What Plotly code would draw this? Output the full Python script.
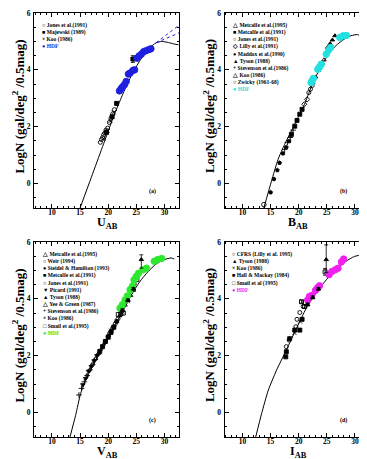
import plotly.graph_objects as go

# ------------------------------------------------------------------ data
# Panel (a)  U band
A_MODEL_MAG = [15.0, 17.0, 19.0, 21.0, 22.5, 24.0, 25.5, 27.0, 28.0, 28.5, 29.5, 30.5, 31.5, 32.5]
A_MODEL_LOGN = [-0.86, 0.22, 1.3, 2.38, 3.1, 3.75, 4.28, 4.7, 4.88, 4.95, 5.0, 4.97, 4.92, 4.88]
A_DOT1_MAG = [28.5, 32.6]
A_DOT1_LOGN = [4.95, 5.57]
A_DOT2_MAG = [28.5, 32.6]
A_DOT2_LOGN = [4.95, 5.3]
A_JONES_MAG = [18.6, 18.8, 19.0, 19.2, 19.4, 19.6, 19.9, 20.2, 20.5, 20.8, 21.1]
A_JONES_LOGN = [1.45, 1.55, 1.62, 1.72, 1.78, 1.88, 1.95, 2.15, 2.3, 2.45, 2.6]
A_MAJ_MAG = [19.7, 20.7, 21.5, 24.4]
A_MAJ_LOGN = [1.8, 2.35, 2.82, 4.38]
A_MAJ_ERR = [0.05, 0.05, 0.05, 0.12]
A_KOO_MAG = [19.2, 19.9, 20.4, 21.0]
A_KOO_LOGN = [1.58, 1.85, 2.2, 2.5]
A_HDF_MAG = [22.0, 22.3, 22.6, 22.9, 23.2, 23.6, 23.9, 24.4, 24.7, 25.1, 25.5, 25.9, 26.3, 26.7, 27.2, 27.6]
A_HDF_LOGN = [3.26, 3.34, 3.41, 3.48, 3.59, 3.85, 3.89, 3.98, 4.0, 4.41, 4.49, 4.55, 4.64, 4.67, 4.71, 4.74]

# Panel (b)  B band
B_MODEL_MAG = [13.8, 15.15, 16.33, 17.5, 18.7, 19.86, 21.04, 22.2, 23.4, 24.56, 25.74, 26.9, 28.1, 29.3, 30.45, 31.3]
B_MODEL_LOGN = [-0.86, 0.08, 0.85, 1.38, 1.85, 2.32, 2.79, 3.38, 3.9, 4.32, 4.67, 4.9, 5.08, 5.2, 5.24, 5.16]
B_ZWICKY_MAG = [13.8]
B_ZWICKY_LOGN = [-0.74]
B_MADDOX_MAG = [15.0, 15.6, 16.2, 16.6, 17.2, 17.8, 18.3]
B_MADDOX_LOGN = [-0.31, 0.16, 0.47, 0.73, 1.06, 1.28, 1.49]
B_MET91_MAG = [18.7, 19.3, 19.7, 20.2, 20.6]
B_MET91_LOGN = [1.73, 2.02, 2.22, 2.44, 2.61]
B_STEV_MAG = [17.5, 18.0, 18.5, 19.0]
B_STEV_LOGN = [1.2, 1.45, 1.62, 1.88]
B_LILLY_MAG = [21.0, 21.5]
B_LILLY_LOGN = [2.79, 2.96]
B_JONES_MAG = [21.8, 22.1, 22.4]
B_JONES_LOGN = [3.2, 3.32, 3.45]
B_MET95_MAG = [22.5, 23.0, 23.5, 24.0, 24.5]
B_MET95_LOGN = [3.55, 3.75, 3.98, 4.15, 4.35]
B_TYSON_MAG = [25.15, 25.6, 26.0, 26.45]
B_TYSON_LOGN = [4.79, 4.92, 5.05, 5.2]
B_KOO_MAG = [23.8, 24.3]
B_KOO_LOGN = [4.05, 4.22]
B_HDF_MAG = [22.2, 22.4, 22.6, 23.4, 23.7, 24.0, 24.9, 25.3, 25.7, 27.3, 27.9, 28.5]
B_HDF_LOGN = [3.55, 3.62, 3.7, 4.02, 4.1, 4.2, 4.55, 4.69, 4.79, 5.14, 5.2, 5.21]

# Panel (c)  V band
C_MODEL_MAG = [13.2, 14.2, 15.1, 16.26, 17.7, 19.47, 21.2, 22.7, 24.15, 25.6, 27.1, 28.5, 30.0, 31.2, 31.75]
C_MODEL_LOGN = [-0.86, -0.1, 0.67, 1.26, 1.79, 2.44, 3.08, 3.6, 4.14, 4.6, 4.96, 5.22, 5.38, 5.44, 5.4]
C_MET95_MAG = [21.5, 22.0, 22.5, 23.0, 23.5, 24.0, 24.5]
C_MET95_LOGN = [3.2, 3.4, 3.58, 3.78, 3.95, 4.12, 4.3]
C_WEIR_MAG = [16.25, 16.75, 17.25, 17.75, 18.25, 18.75, 19.25]
C_WEIR_LOGN = [1.3, 1.5, 1.68, 1.88, 2.05, 2.22, 2.4]
C_STEIDEL_MAG = [19.5, 20.0, 20.5, 21.0, 21.5]
C_STEIDEL_LOGN = [2.5, 2.68, 2.85, 3.02, 3.2]
C_MET91_MAG = [18.5, 19.0, 19.5, 20.0, 20.5, 21.0]
C_MET91_LOGN = [2.15, 2.32, 2.5, 2.65, 2.82, 3.0]
C_JONES_MAG = [20.25, 20.75, 21.25, 21.75, 22.25]
C_JONES_LOGN = [2.78, 2.95, 3.12, 3.3, 3.45]
C_PICARD_MAG = [15.5, 16.0, 16.5, 17.0, 17.5, 18.0]
C_PICARD_LOGN = [0.98, 1.2, 1.45, 1.62, 1.82, 2.0]
C_TYSON_MAG = [22.5, 23.5, 24.5, 25.9]
C_TYSON_LOGN = [3.6, 3.95, 4.35, 5.38]
C_TYSON_ERR_UP = [0.05, 0.05, 0.05, 0.17]
C_TYSON_ERR_DN = [0.05, 0.05, 0.05, 0.3]
C_YEE_MAG = [17.25, 17.75, 18.25]
C_YEE_LOGN = [1.72, 1.9, 2.08]
C_STEV_MAG = [14.8, 15.25, 15.75, 16.25, 16.75]
C_STEV_LOGN = [0.62, 0.85, 1.08, 1.3, 1.5]
C_KOO_MAG = [20.5, 21.5, 22.5, 23.5]
C_KOO_LOGN = [2.88, 3.22, 3.55, 3.92]
C_SMAIL_MAG = [21.8, 22.25, 22.7, 24.6, 25.1]
C_SMAIL_LOGN = [3.45, 3.48, 3.5, 4.55, 4.68]
C_HDF_MAG = [22.1, 22.5, 23.0, 23.4, 23.9, 24.3, 24.6, 25.0, 25.4, 26.2, 26.8, 28.2, 28.8, 29.5]
C_HDF_LOGN = [3.67, 3.79, 3.96, 4.1, 4.32, 4.44, 4.67, 4.79, 4.9, 5.02, 5.08, 5.32, 5.38, 5.42]

# Panel (d)  I band
D_MODEL_MAG = [12.35, 13.4, 14.6, 16.06, 17.8, 19.6, 21.35, 23.1, 24.9, 26.65, 28.4, 29.9, 31.35, 32.0]
D_MODEL_LOGN = [-0.86, -0.04, 0.79, 1.49, 2.2, 2.96, 3.67, 4.2, 4.67, 5.02, 5.32, 5.49, 5.55, 5.55]
D_CFRS_MAG = [17.8, 18.3, 19.5, 19.7, 20.2, 20.8, 21.05]
D_CFRS_LOGN = [2.32, 2.55, 3.02, 3.28, 3.52, 3.73, 3.87]
D_TYSON_MAG = [21.6, 22.5, 23.5, 24.9]
D_TYSON_LOGN = [3.8, 4.05, 4.35, 5.38]
D_TYSON_ERR_UP = [0.05, 0.05, 0.05, 0.52]
D_TYSON_ERR_DN = [0.05, 0.05, 0.05, 0.45]
D_KOO_MAG = [19.25, 20.25]
D_KOO_LOGN = [2.8, 3.2]
D_HALL_MAG = [17.7, 17.8, 18.4, 19.3, 20.2, 20.6]
D_HALL_LOGN = [1.96, 2.14, 2.6, 2.9, 2.9, 3.28]
D_SMAIL_MAG = [20.5, 21.05, 24.7]
D_SMAIL_LOGN = [3.9, 3.73, 4.95]
D_SMAIL_ERR = [0.05, 0.05, 0.12]
D_HDF_MAG = [21.6, 21.9, 22.3, 23.0, 23.4, 23.7, 25.4, 25.9, 26.5, 27.0, 27.6, 28.0]
D_HDF_LOGN = [3.96, 4.08, 4.12, 4.3, 4.4, 4.46, 4.85, 4.96, 5.02, 5.08, 5.3, 5.4]

X_TICKS = [10, 15, 20, 25, 30]
Y_TICKS = [0, 2, 4, 6]
X_TITLES = ["U<sub>AB</sub>", "B<sub>AB</sub>", "V<sub>AB</sub>", "I<sub>AB</sub>"]
PANEL_TAGS = ["(a)", "(b)", "(c)", "(d)"]
Y_TITLE = "LogN (gal/deg<sup>2</sup> /0.5mag)"

LEG_A = ["○ Jones et al.(1991)", "■ Majewski (1989)", "× Koo (1986)"]
LEG_B = ["△ Metcalfe et al.(1995)", "■ Metcalfe et al.(1991)", "○ Jones et al.(1991)",
         "◇ Lilly et al.(1991)", "● Maddox et al.(1990)", "▲ Tyson (1988)",
         "+ Stevenson et al.(1986)", "△ Koo (1986)", "○ Zwicky (1961-68)"]
LEG_C = ["△ Metcalfe et al.(1995)", "○ Weir (1994)", "● Steidel & Hamilton (1993)",
         "■ Metcalfe et al.(1991)", "○ Jones et al.(1991)", "▼ Picard (1991)",
         "▲ Tyson (1988)", "△ Yee & Green (1987)", "+ Stevenson et al.(1986)",
         "× Koo (1986)", "□ Smail et al.(1995)"]
LEG_D = ["○ CFRS (Lilly et al. 1995)", "▲ Tyson (1988)", "× Koo (1986)",
         "■ Hall & Mackay (1984)", "□ Smail et al (1995)"]
HDF_COLORS = ["#1f1fe0", "#22e0e0", "#2ee82e", "#f020f0"]

# ------------------------------------------------------------------ layout
W, H = 367, 459
BOXES = [(26, 5, 171, 200), (216.5, 5, 361.5, 200), (26, 234, 171, 429), (216.5, 234, 361.5, 429)]
SERIF = "Liberation Serif"
XR = [6.8, 32.6]
YR = [-0.86, 6.0]

fig = go.Figure()


def ax_ids(i):
    s = "" if i == 0 else str(i + 1)
    return "x" + s, "y" + s


def add_pts(i, mags, logn, symbol, color="black", size=4, err_up=None, err_dn=None, lw=0.9):
    xa, ya = ax_ids(i)
    kw = {}
    if err_up is not None:
        kw["error_y"] = dict(type="data", array=err_up,
                             arrayminus=err_dn if err_dn is not None else err_up,
                             color=color, thickness=0.8, width=2)
    fig.add_trace(go.Scatter(x=mags, y=logn, mode="markers", xaxis=xa, yaxis=ya,
                             marker=dict(symbol=symbol, size=size, color=color,
                                         line=dict(color=color, width=lw)),
                             showlegend=False, **kw))


def add_line(i, mags, logn, color="black", dash="solid", width=1):
    xa, ya = ax_ids(i)
    fig.add_trace(go.Scatter(x=mags, y=logn, mode="lines", xaxis=xa, yaxis=ya,
                             line=dict(color=color, width=width, dash=dash, shape="spline",
                                       smoothing=0.6),
                             showlegend=False))


# panel a
add_line(0, A_MODEL_MAG, A_MODEL_LOGN)
add_line(0, A_DOT1_MAG, A_DOT1_LOGN, color=HDF_COLORS[0], dash="dot")
add_line(0, A_DOT2_MAG, A_DOT2_LOGN, color=HDF_COLORS[0], dash="dot")
add_pts(0, A_JONES_MAG, A_JONES_LOGN, "circle-open")
add_pts(0, A_MAJ_MAG, A_MAJ_LOGN, "square", err_up=A_MAJ_ERR)
add_pts(0, A_KOO_MAG, A_KOO_LOGN, "x-thin-open")
add_pts(0, A_HDF_MAG, A_HDF_LOGN, "circle", color=HDF_COLORS[0], size=6.5)

# panel b
add_line(1, B_MODEL_MAG, B_MODEL_LOGN)
add_pts(1, B_ZWICKY_MAG, B_ZWICKY_LOGN, "circle-open", size=4.5)
add_pts(1, B_MADDOX_MAG, B_MADDOX_LOGN, "pentagon")
add_pts(1, B_MET91_MAG, B_MET91_LOGN, "square")
add_pts(1, B_STEV_MAG, B_STEV_LOGN, "cross-thin-open")
add_pts(1, B_LILLY_MAG, B_LILLY_LOGN, "diamond-open")
add_pts(1, B_JONES_MAG, B_JONES_LOGN, "circle-open")
add_pts(1, B_MET95_MAG, B_MET95_LOGN, "triangle-up-open")
add_pts(1, B_KOO_MAG, B_KOO_LOGN, "triangle-up-open", size=3)
add_pts(1, B_TYSON_MAG, B_TYSON_LOGN, "triangle-up")
add_pts(1, B_HDF_MAG, B_HDF_LOGN, "circle", color=HDF_COLORS[1], size=6.5)

# panel c
add_line(2, C_MODEL_MAG, C_MODEL_LOGN)
add_pts(2, C_STEV_MAG, C_STEV_LOGN, "cross-thin-open")
add_pts(2, C_PICARD_MAG, C_PICARD_LOGN, "triangle-down")
add_pts(2, C_WEIR_MAG, C_WEIR_LOGN, "circle-open", size=3)
add_pts(2, C_YEE_MAG, C_YEE_LOGN, "triangle-up-open")
add_pts(2, C_MET91_MAG, C_MET91_LOGN, "square")
add_pts(2, C_STEIDEL_MAG, C_STEIDEL_LOGN, "circle")
add_pts(2, C_JONES_MAG, C_JONES_LOGN, "circle-open")
add_pts(2, C_MET95_MAG, C_MET95_LOGN, "triangle-up-open")
add_pts(2, C_KOO_MAG, C_KOO_LOGN, "x-thin-open")
add_pts(2, C_SMAIL_MAG, C_SMAIL_LOGN, "square-open")
add_pts(2, C_HDF_MAG, C_HDF_LOGN, "circle", color=HDF_COLORS[2], size=6.5)
add_pts(2, C_TYSON_MAG, C_TYSON_LOGN, "triangle-up", err_up=C_TYSON_ERR_UP, err_dn=C_TYSON_ERR_DN)

# panel d
add_line(3, D_MODEL_MAG, D_MODEL_LOGN)
add_pts(3, D_HALL_MAG, D_HALL_LOGN, "square")
add_pts(3, D_CFRS_MAG, D_CFRS_LOGN, "circle-open")
add_pts(3, D_KOO_MAG, D_KOO_LOGN, "x-thin-open")
add_pts(3, D_SMAIL_MAG, D_SMAIL_LOGN, "square-open", err_up=D_SMAIL_ERR)
add_pts(3, D_HDF_MAG, D_HDF_LOGN, "circle", color=HDF_COLORS[3], size=6.5)
add_pts(3, D_TYSON_MAG, D_TYSON_LOGN, "triangle-up", err_up=D_TYSON_ERR_UP, err_dn=D_TYSON_ERR_DN)

axis_font = dict(family=SERIF, size=7.5, color="black", weight="bold")
title_font = dict(family=SERIF, size=13, color="black", weight="bold")
xtitle_font = dict(family=SERIF, size=12, color="black", weight="bold")
layout = {}
annotations = []
legends = [LEG_A, LEG_B, LEG_C, LEG_D]
for i, (x0, y0, x1, y1) in enumerate(BOXES):
    s = "" if i == 0 else str(i + 1)
    xa, ya = ax_ids(i)
    pw, ph = x1 - x0, y1 - y0
    layout["xaxis" + s] = dict(
        domain=[x0 / W, x1 / W], anchor=ya, range=XR, tickvals=X_TICKS,
        ticks="inside", ticklen=4, tickwidth=1, tickcolor="black",
        minor=dict(dtick=1, tick0=0, ticks="inside", ticklen=2, tickcolor="black"),
        mirror="ticks", showline=True, linecolor="black", linewidth=1,
        showgrid=False, zeroline=False, automargin=False,
        tickfont=axis_font, ticklabelstandoff=-3)
    layout["yaxis" + s] = dict(
        domain=[1 - y1 / H, 1 - y0 / H], anchor=xa, range=YR, tickvals=Y_TICKS,
        ticks="inside", ticklen=4, tickwidth=1, tickcolor="black",
        minor=dict(dtick=0.5, tick0=0, ticks="inside", ticklen=2, tickcolor="black"),
        mirror="ticks", showline=True, linecolor="black", linewidth=1,
        showgrid=False, zeroline=False, automargin=False,
        tickfont=axis_font, ticklabelstandoff=1)
    # axis titles as annotations (positions relative to the panel box)
    annotations.append(dict(
        xref=xa + " domain", yref=ya + " domain", x=0.51, y=-15 / ph,
        xanchor="center", yanchor="middle", showarrow=False,
        text=X_TITLES[i], font=xtitle_font))
    annotations.append(dict(
        xref=xa + " domain", yref=ya + " domain", x=-16 / pw, y=0.52,
        xanchor="center", yanchor="middle", showarrow=False, textangle=-90,
        text=Y_TITLE, font=title_font))
    txt = "<br>".join(legends[i]) + \
        "<br><span style='color:%s'>● HDF</span>" % HDF_COLORS[i]
    annotations.append(dict(
        xref=xa + " domain", yref=ya + " domain", x=0.04, y=0.965,
        xanchor="left", yanchor="top", align="left", showarrow=False,
        text=txt, font=dict(family=SERIF, size=5.5, color="black", weight="bold")))
    annotations.append(dict(
        xref=xa + " domain", yref=ya + " domain", x=0.82, y=0.085,
        xanchor="center", yanchor="middle", showarrow=False,
        text=PANEL_TAGS[i], font=dict(family=SERIF, size=6, color="black", weight="bold")))

fig.update_layout(
    width=W, height=H, margin=dict(l=0, r=0, t=0, b=0),
    paper_bgcolor="white", plot_bgcolor="white", showlegend=False,
    annotations=annotations, **layout)

fig.write_html("out.html")
